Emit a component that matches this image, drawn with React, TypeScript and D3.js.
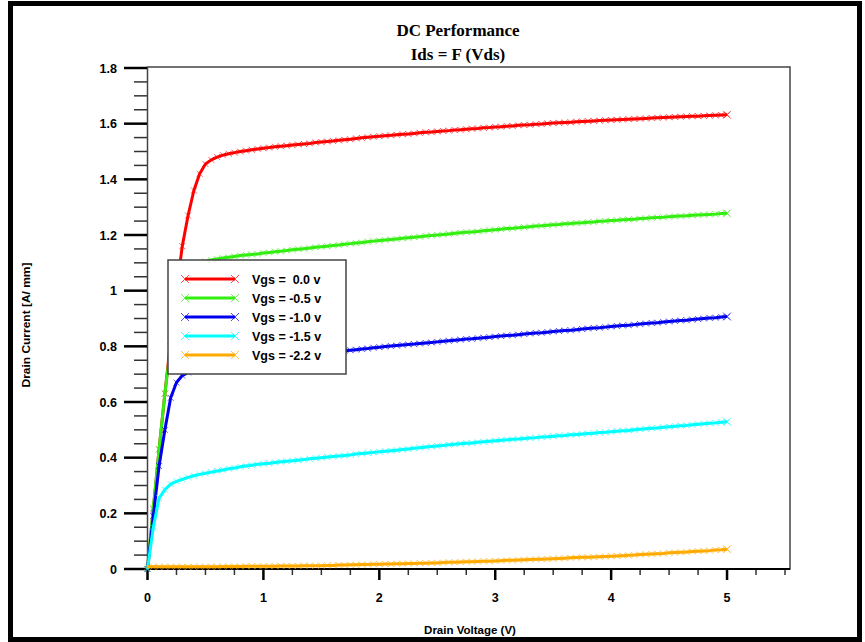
import React from "react";
import * as d3 from "d3";

// Vds sweep: 0 .. 5 V, 0.05 V step (101 points)
const vds = d3.range(0, 101).map((i) => +(i * 0.05).toFixed(2));

const idsVgs0 = [
  0, 0.215, 0.43, 0.63, 0.82, 1.0, 1.16, 1.27, 1.36, 1.42, 1.455, 1.47, 1.48, 1.487, 1.492, 1.496, 1.5, 1.503, 1.506, 1.509, 1.512,
  1.514, 1.517, 1.519, 1.521, 1.523, 1.525, 1.527, 1.529, 1.532, 1.534,
  1.536, 1.538, 1.54, 1.542, 1.544, 1.547, 1.549, 1.551, 1.553, 1.555,
  1.557, 1.558, 1.56, 1.562, 1.563, 1.565, 1.567, 1.569, 1.57, 1.572,
  1.574, 1.575, 1.577, 1.578, 1.58, 1.582, 1.583, 1.585, 1.586, 1.588,
  1.589, 1.591, 1.592, 1.594, 1.595, 1.596, 1.598, 1.599, 1.601, 1.602,
  1.603, 1.604, 1.605, 1.607, 1.608, 1.609, 1.61, 1.611, 1.612, 1.613,
  1.614, 1.615, 1.616, 1.617, 1.618, 1.619, 1.62, 1.621, 1.622, 1.623,
  1.624, 1.625, 1.626, 1.627, 1.627, 1.628, 1.629, 1.63, 1.631, 1.632,
];

const idsVgs05 = [
  0, 0.22, 0.43, 0.63, 0.8, 0.94, 1.03, 1.07, 1.088, 1.098, 1.105, 1.11, 1.114, 1.117, 1.12, 1.123, 1.126, 1.128, 1.13, 1.132, 1.135,
  1.137, 1.14, 1.142, 1.144, 1.147, 1.149, 1.151, 1.153, 1.156, 1.158,
  1.16, 1.162, 1.164, 1.167, 1.169, 1.171, 1.173, 1.176, 1.178, 1.18,
  1.182, 1.184, 1.186, 1.188, 1.19, 1.192, 1.194, 1.196, 1.198, 1.2,
  1.202, 1.204, 1.206, 1.208, 1.21, 1.211, 1.213, 1.215, 1.217, 1.219,
  1.221, 1.223, 1.224, 1.226, 1.228, 1.23, 1.232, 1.233, 1.235, 1.237,
  1.238, 1.24, 1.241, 1.243, 1.244, 1.246, 1.247, 1.249, 1.25, 1.252,
  1.253, 1.255, 1.256, 1.257, 1.259, 1.26, 1.262, 1.263, 1.264, 1.266,
  1.267, 1.268, 1.269, 1.271, 1.272, 1.273, 1.274, 1.275, 1.277, 1.278,
];

const idsVgs10 = [
  0, 0.19, 0.37, 0.5, 0.615, 0.67, 0.695, 0.706, 0.714, 0.72, 0.726, 0.731, 0.735, 0.739, 0.742, 0.745, 0.748, 0.75, 0.752, 0.754, 0.756,
  0.758, 0.76, 0.762, 0.764, 0.766, 0.768, 0.77, 0.771, 0.773, 0.775,
  0.777, 0.779, 0.781, 0.784, 0.786, 0.788, 0.79, 0.792, 0.795, 0.797,
  0.799, 0.801, 0.803, 0.805, 0.807, 0.808, 0.81, 0.812, 0.814, 0.816,
  0.818, 0.82, 0.822, 0.824, 0.826, 0.827, 0.829, 0.831, 0.833, 0.835,
  0.837, 0.839, 0.84, 0.842, 0.844, 0.846, 0.848, 0.849, 0.851, 0.853,
  0.855, 0.857, 0.858, 0.86, 0.862, 0.864, 0.866, 0.867, 0.869, 0.871,
  0.873, 0.875, 0.876, 0.878, 0.88, 0.882, 0.884, 0.885, 0.887, 0.889,
  0.891, 0.893, 0.894, 0.896, 0.898, 0.9, 0.902, 0.903, 0.905, 0.907,
];

const idsVgs15 = [
  0, 0.15, 0.255, 0.285, 0.305, 0.315, 0.322, 0.329, 0.335, 0.34, 0.344, 0.348, 0.352, 0.356, 0.36, 0.363, 0.367, 0.37, 0.373, 0.376, 0.378,
  0.38, 0.383, 0.385, 0.387, 0.389, 0.391, 0.393, 0.396, 0.398, 0.4,
  0.402, 0.404, 0.406, 0.408, 0.41, 0.413, 0.415, 0.417, 0.419, 0.421,
  0.423, 0.425, 0.427, 0.429, 0.431, 0.434, 0.436, 0.438, 0.44, 0.442,
  0.444, 0.446, 0.448, 0.45, 0.452, 0.453, 0.455, 0.457, 0.459, 0.461,
  0.463, 0.464, 0.466, 0.467, 0.469, 0.471, 0.472, 0.474, 0.475, 0.477,
  0.479, 0.48, 0.482, 0.483, 0.485, 0.487, 0.488, 0.49, 0.491, 0.493,
  0.495, 0.497, 0.498, 0.5, 0.502, 0.504, 0.506, 0.507, 0.509, 0.511,
  0.513, 0.515, 0.516, 0.518, 0.52, 0.522, 0.524, 0.525, 0.527, 0.529,
];

const idsVgs22 = [
  0.008, 0.008, 0.008, 0.008, 0.008, 0.008, 0.008, 0.008, 0.008, 0.008, 0.008, 0.008, 0.008, 0.009, 0.009, 0.009, 0.009, 0.01, 0.01, 0.01, 0.01,
  0.01, 0.01, 0.011, 0.011, 0.011, 0.011, 0.012, 0.012, 0.012, 0.012,
  0.013, 0.013, 0.014, 0.014, 0.015, 0.015, 0.016, 0.016, 0.017, 0.017,
  0.018, 0.018, 0.019, 0.019, 0.02, 0.02, 0.021, 0.021, 0.022, 0.022,
  0.023, 0.024, 0.024, 0.025, 0.026, 0.026, 0.027, 0.028, 0.028, 0.029,
  0.03, 0.031, 0.031, 0.032, 0.033, 0.034, 0.035, 0.035, 0.036, 0.037,
  0.038, 0.039, 0.04, 0.041, 0.042, 0.042, 0.043, 0.044, 0.045, 0.046,
  0.047, 0.048, 0.049, 0.05, 0.052, 0.053, 0.054, 0.055, 0.056, 0.058,
  0.059, 0.06, 0.061, 0.063, 0.064, 0.065, 0.066, 0.068, 0.069, 0.071,
];

const seriesLabels = ["Vgs =  0.0 v", "Vgs = -0.5 v", "Vgs = -1.0 v", "Vgs = -1.5 v", "Vgs = -2.2 v"];
const seriesColors = ["#ff0000", "#33ee11", "#0000ee", "#00ffff", "#ffaa00"];
const seriesValues = [idsVgs0, idsVgs05, idsVgs10, idsVgs15, idsVgs22];

const yMajorTicks = [0, 0.2, 0.4, 0.6, 0.8, 1, 1.2, 1.4, 1.6, 1.8];
const xMajorTicks = [0, 1, 2, 3, 4, 5];

const W = 865;
const H = 642;

const cross = (x: number, y: number, s: number) =>
  `M${x - s},${y - s}L${x + s},${y + s}M${x - s},${y + s}L${x + s},${y - s}`;

const App = () => {
  const x = d3.scaleLinear().domain([0, 5.5]).range([147.5, 785]);
  const y = d3.scaleLinear().domain([0, 1.8]).range([569, 68]);

  const line = d3
    .line<number>()
    .x((d, i) => x(vds[i]))
    .y((d) => y(d));

  const yMinor = d3.range(0, 37).map((i) => i * 0.05);
  const xMinor = d3.range(0, 23).map((i) => i * 0.25);
  const bold = { fontFamily: "Arial, 'Liberation Sans', sans-serif", fontWeight: 700 };

  return (
    <svg width={W} height={H} style={{ position: "absolute", left: 0, top: 0, background: "#fff" }}>
      <rect x={0} y={0} width={W} height={H} fill="#fff" />
      <rect x={10.5} y={3.5} width={849} height={636} fill="none" stroke="#000" strokeWidth={5} />

      <text x={458} y={36} textAnchor="middle" fontFamily="'Liberation Serif', 'Times New Roman', serif" fontWeight={700} fontSize={17}>
        DC Performance
      </text>
      <text x={458} y={60} textAnchor="middle" fontFamily="'Liberation Serif', 'Times New Roman', serif" fontWeight={700} fontSize={17}>
        Ids = F (Vds)
      </text>

      {/* plot frame */}
      <rect x={147.5} y={y(1.8) - 1} width={790 - 147.5} height={569 - y(1.8) + 1} fill="none" stroke="#444" strokeWidth={1.5} />

      {/* y ticks */}
      {yMinor.map((v, i) => (
        <line key={"ym" + i} x1={i % 4 === 0 ? 124 : 134} x2={147} y1={y(v)} y2={y(v)}
          stroke={i % 4 === 0 ? "#000" : "#333"} strokeWidth={i % 4 === 0 ? 2.5 : 1.5} />
      ))}
      {yMajorTicks.map((v) => (
        <text key={"yl" + v} x={117} y={y(v) + 4.5} textAnchor="end" fontSize={12.5} {...bold}>
          {d3.format("~g")(v)}
        </text>
      ))}

      {/* x ticks */}
      {xMinor.map((v, i) => (
        <line key={"xm" + i} x1={x(v)} x2={x(v)} y1={569} y2={i % 4 === 0 ? 580 : 575}
          stroke={i % 4 === 0 ? "#000" : "#333"} strokeWidth={i % 4 === 0 ? 2.5 : 1.5} />
      ))}
      <line x1={124} x2={790} y1={569} y2={569} stroke="#000" strokeWidth={2} />
      {xMajorTicks.map((v) => (
        <text key={"xl" + v} x={x(v)} y={602} textAnchor="middle" fontSize={12.5} {...bold}>
          {v}
        </text>
      ))}

      <text x={0} y={0} transform={`translate(30,325) rotate(-90)`} textAnchor="middle" fontSize={10.5}
        textLength={125} lengthAdjust="spacingAndGlyphs" {...bold}>
        Drain Current [A/ mm]
      </text>
      <text x={470} y={634} textAnchor="middle" fontSize={11.5} {...bold}>
        Drain Voltage (V)
      </text>

      {/* curves */}
      {seriesValues.map((vals, si) => (
        <g key={"s" + si}>
          <path d={line(vals) ?? ""} fill="none" stroke={seriesColors[si]} strokeWidth={3} strokeLinejoin="round" />
          <path
            d={vals.map((v, i) => cross(x(vds[i]), y(v), 3)).join("")}
            fill="none"
            stroke={seriesColors[si]}
            strokeOpacity={0.6}
            strokeWidth={1}
          />
          <path d={cross(x(vds[vds.length - 1]), y(vals[vals.length - 1]), 4)} fill="none"
            stroke={seriesColors[si]} strokeOpacity={0.6} strokeWidth={1} />
        </g>
      ))}

      {/* legend */}
      <rect x={168} y={260} width={178} height={114} fill="#fff" stroke="#444" strokeWidth={1.5} />
      {seriesLabels.map((lab, i) => {
        const ly = 279 + i * 19;
        return (
          <g key={"lg" + i}>
            <line x1={185} x2={235} y1={ly} y2={ly} stroke={seriesColors[i]} strokeWidth={3} />
            <path d={cross(185, ly, 4) + cross(235, ly, 4)} fill="none" stroke={seriesColors[i]} strokeOpacity={0.7} strokeWidth={1} />
            <text x={252} y={ly + 4.5} fontSize={12.5} style={{ whiteSpace: "pre" }} {...bold}>
              {lab}
            </text>
          </g>
        );
      })}
    </svg>
  );
};

export default App;
